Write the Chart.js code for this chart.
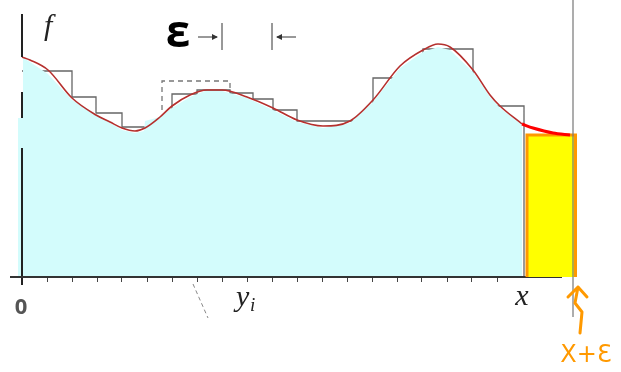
<!DOCTYPE html>
<html>
<head>
<meta charset="utf-8">
<script src="https://cdn.jsdelivr.net/npm/chart.js@4.4.1/dist/chart.umd.min.js"></script>
<style>
  html, body { margin: 0; padding: 0; background: #fff; }
  #wrap { width: 621px; height: 372px; }
</style>
</head>
<body>
<div id="wrap"><canvas id="sketch"></canvas></div>
<script>
// f(t) (t in tick units)
var curveX = [0, 0.32, 1.04, 2.0, 2.96, 3.52, 4.0, 4.52, 4.92, 5.52, 6.0, 6.72, 7.4, 8.0, 9.0, 10.04, 11.0, 12.04, 13.12, 14.04, 15.12, 16.04, 16.64, 17.12, 18.04, 18.72, 19.12, 20.0];
var curveY = [8.8, 8.68, 8.28, 7.16, 6.48, 6.2, 5.96, 5.84, 5.96, 6.4, 6.84, 7.28, 7.48, 7.48, 7.2, 6.76, 6.28, 6.04, 6.24, 7.08, 8.44, 9.08, 9.32, 9.2, 8.28, 7.28, 6.84, 6.12];

// the bit of f between x and x+eps
var hotX = [20.0, 20.44, 21.24, 21.92];
var hotY = [6.12, 5.96, 5.76, 5.68];

// step function (left edge of each step, its height)
var stepX = [0, 2.0, 2.96, 4.0, 5.0, 6.0, 7.0, 8.32, 9.24, 10.04, 11.0, 14.04, 16.04, 18.04, 20.08, 20.08];
var stepY = [8.24, 7.2, 6.56, 6.0, 6.08, 7.32, 7.48, 7.36, 7.12, 6.68, 6.24, 7.96, 9.12, 6.84, 6.84, 0];

// dashed step around y_i
var dashX = [5.6, 5.6, 8.32, 8.32];
var dashY = [6.68, 7.84, 7.84, 7.48];

// hand coloured area under f
var areaX = [-0.16, -0.16, 0.04, 0.04, 0.32, 1.04, 2.0, 2.96, 3.52, 4.0, 4.52, 4.88, 4.92, 5.52, 6.0, 6.72, 7.32, 8.0, 9.0, 10.04, 11.0, 12.04, 13.12, 14.04, 15.12, 16.04, 16.64, 17.12, 18.04, 18.72, 19.12, 20.0];
var areaY = [5.16, 6.36, 6.36, 8.76, 8.6, 8.12, 7.08, 6.52, 6.16, 5.88, 5.76, 5.84, 6.24, 6.4, 6.76, 7.2, 7.44, 7.44, 7.16, 6.68, 6.2, 5.96, 6.16, 7.0, 8.36, 9.0, 9.2, 9.08, 8.2, 7.2, 6.76, 6.08];

// the new strip [x, x+eps]
var stripX = [20.2, 20.2, 22.14, 22.14];
var stripY = [0, 5.68, 5.68, 0];

var edgeX = [22.04, 22.04];
var edgeY = [11.08, -1.6];

// axes
var axisHx = [-0.48, 21.6];
var axisHy = [0, 0];
var axisVx = [0, 0, 0, 0, 0, 0];
var axisVy = [10.52, 8.8, 7.4, 6.36, 5.16, -0.32];

var xTickMax = 19;

function pts(xs, ys) {
    return xs.map(function (x, i) { return { x: x, y: ys[i] }; });
}

var sketchText = {
    id: 'sketchText',
    afterDatasetsDraw: function (chart) {
        var ctx = chart.ctx;
        var sx = chart.scales.x, sy = chart.scales.y;
        function X(u) { return sx.getPixelForValue(u); }
        function Y(v) { return sy.getPixelForValue(v); }
        ctx.save();
        ctx.textBaseline = 'alphabetic';

        // f
        ctx.fillStyle = '#222';
        ctx.textAlign = 'left';
        ctx.font = 'italic 30px "Liberation Serif"';
        ctx.fillText('f', X(0.88), Y(9.68));

        // eps with its arrows
        ctx.fillStyle = '#000';
        ctx.textAlign = 'center';
        ctx.font = 'bold 44px "Open Sans"';
        ctx.fillText('ε', X(6.24), Y(9.2));
        ctx.strokeStyle = '#333';
        ctx.fillStyle = '#333';
        ctx.lineWidth = 1;
        var ay = Y(9.6);
        ctx.beginPath();
        ctx.moveTo(X(8), Y(10.16)); ctx.lineTo(X(8), Y(9.08));
        ctx.moveTo(X(10), Y(10.16)); ctx.lineTo(X(10), Y(9.08));
        ctx.moveTo(X(7.04), ay); ctx.lineTo(X(7.8), ay);
        ctx.moveTo(X(10.2), ay); ctx.lineTo(X(10.96), ay);
        ctx.stroke();
        ctx.beginPath();
        ctx.moveTo(X(7.84), ay); ctx.lineTo(X(7.6), ay - 3); ctx.lineTo(X(7.6), ay + 3); ctx.closePath();
        ctx.moveTo(X(10.16), ay); ctx.lineTo(X(10.4), ay - 3); ctx.lineTo(X(10.4), ay + 3); ctx.closePath();
        ctx.fill();

        // axis labels
        ctx.fillStyle = '#555';
        ctx.font = 'bold 22px "Open Sans"';
        ctx.fillText('0', X(-0.04), Y(-1.48));
        ctx.fillStyle = '#222';
        ctx.textAlign = 'left';
        ctx.font = 'italic 30px "Liberation Serif"';
        ctx.fillText('y', X(8.56), Y(-1.16));
        ctx.font = 'italic 19px "Liberation Serif"';
        ctx.fillText('i', X(9.12), Y(-1.36));
        ctx.textAlign = 'center';
        ctx.font = 'italic 30px "Liberation Serif"';
        ctx.fillText('x', X(20.0), Y(-1.12));

        // dashed leader below the axis
        ctx.strokeStyle = '#888';
        ctx.setLineDash([4, 3]);
        ctx.beginPath();
        ctx.moveTo(X(6.84), Y(-0.28));
        ctx.lineTo(X(7.44), Y(-1.64));
        ctx.stroke();
        ctx.setLineDash([]);

        // orange note
        ctx.strokeStyle = '#ff9900';
        ctx.lineWidth = 3;
        ctx.lineCap = 'round';
        ctx.lineJoin = 'round';
        ctx.beginPath();
        ctx.moveTo(X(21.84), Y(-0.8)); ctx.lineTo(X(22.24), Y(-0.4)); ctx.lineTo(X(22.6), Y(-0.8));
        ctx.moveTo(X(22.24), Y(-0.4));
        ctx.lineTo(X(22.12), Y(-1.04));
        ctx.lineTo(X(22.4), Y(-1.4));
        ctx.lineTo(X(22.32), Y(-2.24));
        ctx.stroke();
        ctx.fillStyle = '#ff9900';
        ctx.font = '24px "DejaVu Sans"';
        ctx.fillText('X+Ɛ', X(22.56), Y(-3.4));
        ctx.restore();
    }
};

var ctxsk = document.getElementById('sketch');
var sketch = new Chart(ctxsk, {
    type: 'line',
    data: {
        datasets: [{
            data: pts(stepX, stepY),
            stepped: 'before',
            borderColor: '#666',
            borderWidth: 1.3,
            order: 9
        }, {
            data: pts(dashX, dashY),
            borderColor: '#777',
            borderWidth: 1.3,
            borderDash: [5, 4],
            order: 8
        }, {
            data: pts(areaX, areaY),
            borderWidth: 0,
            borderColor: 'rgba(0,0,0,0)',
            backgroundColor: '#d3fcfc',
            fill: 'origin',
            tension: 0,
            order: 7
        }, {
            data: pts(curveX, curveY),
            borderColor: '#b5302e',
            borderWidth: 1.6,
            cubicInterpolationMode: 'monotone',
            order: 6
        }, {
            data: pts(axisHx, axisHy),
            borderColor: '#333',
            borderWidth: 2,
            order: 5
        }, {
            data: pts(axisVx, axisVy),
            borderColor: '#222',
            borderWidth: 2,
            segment: {
                borderColor: function (c) { return (c.p0DataIndex === 1 || c.p0DataIndex === 3) ? 'rgba(0,0,0,0)' : '#222'; }
            },
            order: 5
        }, {
            data: pts(stripX, stripY),
            borderColor: '#ff9900',
            borderWidth: 3,
            backgroundColor: '#ffff00',
            fill: 'origin',
            order: 3
        }, {
            data: pts(hotX, hotY),
            borderColor: '#ff0000',
            borderWidth: 3,
            tension: 0.3,
            order: 2
        }, {
            data: pts(edgeX, edgeY),
            borderColor: '#777',
            borderWidth: 1.2,
            order: 1
        }]
    },
    options: {
        responsive: true,
        maintainAspectRatio: false,
        animation: false,
        layout: { padding: 0 },
        elements: { point: { radius: 0, hoverRadius: 0 } },
        plugins: {
            legend: { display: false },
            tooltip: { enabled: false }
        },
        scales: {
            x: {
                type: 'linear',
                min: -0.88,
                max: 23.96,
                position: { y: 0 },
                border: { display: false },
                grid: {
                    drawOnChartArea: false,
                    drawTicks: true,
                    tickLength: 5,
                    lineWidth: 1,
                    color: function (c) {
                        var v = c.tick ? c.tick.value : -1;
                        return (Number.isInteger(v) && v >= 0 && v <= xTickMax) ? '#444' : 'rgba(0,0,0,0)';
                    }
                },
                ticks: { display: false, stepSize: 1, maxTicksLimit: 40 }
            },
            y: {
                type: 'linear',
                min: -3.8,
                max: 11.08,
                display: false
            }
        }
    },
    plugins: [sketchText]
});
</script>
</body>
</html>
